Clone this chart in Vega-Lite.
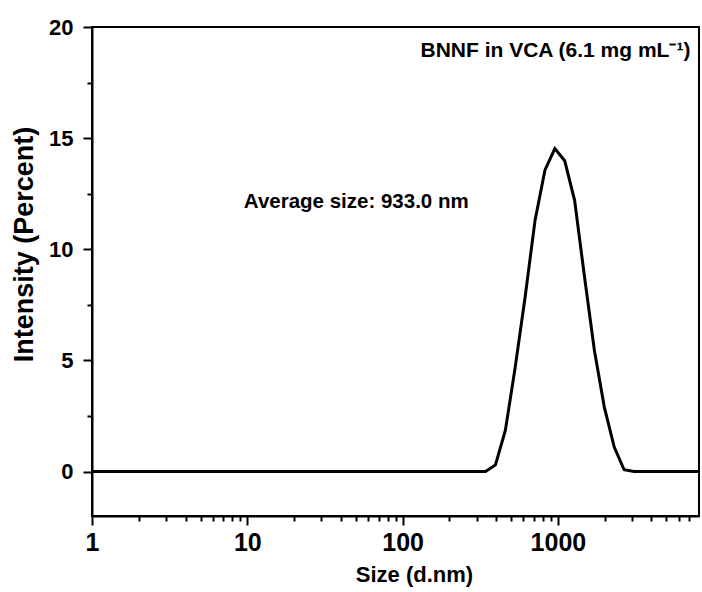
{
  "$schema": "https://vega.github.io/schema/vega-lite/v6.json",
  "width": 607,
  "height": 489,
  "autosize": {"type": "none"},
  "padding": {"left": 92, "top": 27, "right": 3, "bottom": 76},
  "background": "white",
  "config": {
    "view": {"stroke": "black", "strokeWidth": 2},
    "font": "Liberation Sans",
    "axis": {
      "grid": false,
      "domainColor": "black",
      "domainWidth": 2,
      "tickColor": "black",
      "tickWidth": 2,
      "labelFont": "Liberation Sans",
      "labelFontWeight": "bold",
      "labelFontSize": 22,
      "labelColor": "black",
      "titleFont": "Liberation Sans",
      "titleFontWeight": "bold",
      "titleFontSize": 21,
      "titleColor": "black",
      "labelOverlap": false,
      "labelFlush": false,
      "labelBound": false
    }
  },
  "encoding": {
    "x": {
      "field": "size",
      "type": "quantitative",
      "scale": {"type": "log", "domain": [1, 8100], "nice": false},
      "axis": {
        "title": "Size (d.nm)",
        "titleFontSize": 22,
        "titleX": 322,
        "titleAlign": "center",
        "labelFontSize": 25,
        "values": [1,2,3,4,5,6,7,8,9,10,20,30,40,50,60,70,80,90,100,200,300,400,500,600,700,800,900,1000,2000,3000,4000,5000,6000,7000],
        "labelExpr": "(datum.value == 1 || datum.value == 10 || datum.value == 100 || datum.value == 1000) ? format(datum.value, 'd') : ''",
        "tickSize": {"condition": {"test": "datum.value == 1 || datum.value == 10 || datum.value == 100 || datum.value == 1000", "value": 9}, "value": 5},
        "labelPadding": 5,
        "titlePadding": 9
      }
    },
    "y": {
      "field": "intensity",
      "type": "quantitative",
      "scale": {"domain": [-2, 20], "nice": false, "zero": false},
      "axis": {
        "title": "Intensity (Percent)",
        "titleFontSize": 27,
        "titleX": -68,
        "titleY": 217,
        "titleBaseline": "middle",
        "titleAlign": "center",
        "values": [0, 2.5, 5, 7.5, 10, 12.5, 15, 17.5, 20],
        "labelExpr": "datum.value % 5 == 0 ? format(datum.value, 'd') : ''",
        "tickSize": {"condition": {"test": "datum.value % 5 == 0", "value": 9}, "value": 5},
        "labelPadding": 10
      }
    }
  },
  "layer": [
    {
      "data": {
        "values": [
          {"size": 0.9649, "intensity": 0},
          {"size": 1.117, "intensity": 0},
          {"size": 1.294, "intensity": 0},
          {"size": 1.499, "intensity": 0},
          {"size": 1.736, "intensity": 0},
          {"size": 2.01, "intensity": 0},
          {"size": 2.328, "intensity": 0},
          {"size": 2.696, "intensity": 0},
          {"size": 3.122, "intensity": 0},
          {"size": 3.615, "intensity": 0},
          {"size": 4.187, "intensity": 0},
          {"size": 4.849, "intensity": 0},
          {"size": 5.615, "intensity": 0},
          {"size": 6.503, "intensity": 0},
          {"size": 7.531, "intensity": 0},
          {"size": 8.721, "intensity": 0},
          {"size": 10.1, "intensity": 0},
          {"size": 11.7, "intensity": 0},
          {"size": 13.54, "intensity": 0},
          {"size": 15.69, "intensity": 0},
          {"size": 18.17, "intensity": 0},
          {"size": 21.04, "intensity": 0},
          {"size": 24.36, "intensity": 0},
          {"size": 28.21, "intensity": 0},
          {"size": 32.67, "intensity": 0},
          {"size": 37.84, "intensity": 0},
          {"size": 43.82, "intensity": 0},
          {"size": 50.75, "intensity": 0},
          {"size": 58.77, "intensity": 0},
          {"size": 68.06, "intensity": 0},
          {"size": 78.82, "intensity": 0},
          {"size": 91.28, "intensity": 0},
          {"size": 105.7, "intensity": 0},
          {"size": 122.4, "intensity": 0},
          {"size": 141.8, "intensity": 0},
          {"size": 164.2, "intensity": 0},
          {"size": 190.1, "intensity": 0},
          {"size": 220.2, "intensity": 0},
          {"size": 255.0, "intensity": 0},
          {"size": 295.3, "intensity": 0},
          {"size": 342.0, "intensity": 0},
          {"size": 396.1, "intensity": 0.3},
          {"size": 458.7, "intensity": 1.85},
          {"size": 531.2, "intensity": 4.7},
          {"size": 615.1, "intensity": 7.85},
          {"size": 712.4, "intensity": 11.3},
          {"size": 825.0, "intensity": 13.56},
          {"size": 955.4, "intensity": 14.53},
          {"size": 1106, "intensity": 13.98},
          {"size": 1281, "intensity": 12.2},
          {"size": 1484, "intensity": 8.75},
          {"size": 1718, "intensity": 5.45},
          {"size": 1990, "intensity": 2.9},
          {"size": 2305, "intensity": 1.1},
          {"size": 2669, "intensity": 0.08},
          {"size": 3091, "intensity": 0},
          {"size": 3580, "intensity": 0},
          {"size": 4145, "intensity": 0},
          {"size": 4801, "intensity": 0},
          {"size": 5560, "intensity": 0},
          {"size": 6439, "intensity": 0},
          {"size": 7456, "intensity": 0},
          {"size": 8635, "intensity": 0}
        ]
      },
      "mark": {"type": "line", "color": "black", "strokeWidth": 3, "clip": true, "strokeJoin": "miter"}
    },
    {
      "data": {
        "values": [
          {"size": 9.5, "intensity": 11.85, "label": "Average size: 933.0 nm"}
        ]
      },
      "mark": {"type": "text", "fontSize": 20.5, "fontWeight": "bold", "font": "Liberation Sans", "color": "black", "baseline": "alphabetic", "align": "left"},
      "encoding": {
        "text": {"field": "label", "type": "nominal"}
      }
    },
    {
      "data": {
        "values": [
          {"size": 7130, "intensity": 18.63, "label": "BNNF in VCA (6.1 mg mL⁻¹)"}
        ]
      },
      "mark": {"type": "text", "fontSize": 21, "fontWeight": "bold", "font": "Liberation Sans", "color": "black", "baseline": "alphabetic", "align": "right"},
      "encoding": {
        "text": {"field": "label", "type": "nominal"}
      }
    }
  ]
}
